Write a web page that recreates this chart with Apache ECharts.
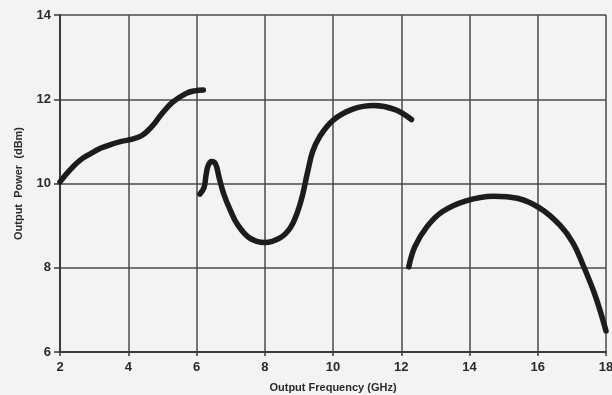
<!DOCTYPE html>
<html>
<head>
<meta charset="utf-8">
<script src="https://cdn.jsdelivr.net/npm/echarts@6/dist/echarts.min.js"></script>
<style>
html,body{margin:0;padding:0;background:#f3f3f1;}
#c{width:612px;height:395px;}
</style>
</head>
<body>
<div id="c"></div>
<script>
// Frequency (GHz) / Output power (dBm)
const band1Freq = [2.0, 2.3, 2.6, 2.9, 3.2, 3.5, 3.8, 4.05, 4.4, 4.7, 4.95, 5.3, 5.7, 5.95, 6.2];
const band1Power = [10.04, 10.33, 10.56, 10.71, 10.84, 10.93, 11.0, 11.04, 11.14, 11.36, 11.62, 11.93, 12.14, 12.2, 12.22];

const band2Freq = [6.1, 6.22, 6.28, 6.34, 6.44, 6.56, 6.66, 6.8, 7.0, 7.2, 7.55, 8.0, 8.45, 8.75, 8.95, 9.1, 9.25, 9.4, 9.6, 10.0, 10.6, 11.2, 11.8, 12.3];
const band2Power = [9.75, 9.9, 10.2, 10.42, 10.52, 10.46, 10.15, 9.75, 9.35, 9.03, 8.71, 8.6, 8.71, 8.95, 9.3, 9.7, 10.25, 10.75, 11.1, 11.5, 11.77, 11.85, 11.76, 11.52];

const band3Freq = [12.22, 12.4, 12.75, 13.2, 13.9, 14.7, 15.4, 16.05, 16.65, 17.04, 17.33, 17.63, 17.82, 18.0];
const band3Power = [8.02, 8.5, 8.97, 9.33, 9.59, 9.7, 9.65, 9.42, 9.01, 8.58, 8.06, 7.46, 7.0, 6.5];

const xTicks = [2, 4, 6, 8, 10, 12, 14, 16, 18];
const yTicks = [6, 8, 10, 12, 14];

function pairs(xs, ys){ return xs.map((x,i)=>[x, ys[i]]); }

const chart = echarts.init(document.getElementById('c'), null, {renderer:'canvas'});
const curveStyle = {color:'#1c1c1c', width:5.5, cap:'round', join:'round'};
const gridLine = {show:true, lineStyle:{color:'#4a4a4a', width:1.5}};
const font = 'Liberation Sans, Arial, sans-serif';

chart.setOption({
  backgroundColor:'#f3f3f1',
  animation:false,
  grid:{left:60, right:6, top:15, bottom:43, containLabel:false, outerBoundsMode:'none'},
  xAxis:{
    type:'value', min:xTicks[0], max:xTicks[xTicks.length-1], interval:2,
    name:'Output Frequency (GHz)', nameLocation:'middle', nameGap:30,
    nameTextStyle:{fontFamily:font, fontWeight:'bold', fontSize:11, color:'#2a2a2a'},
    axisLine:{show:true, lineStyle:{color:'#3a3a3a', width:2}},
    axisTick:{show:true, length:4, lineStyle:{color:'#3a3a3a', width:1.5}},
    axisLabel:{fontFamily:font, fontWeight:'bold', fontSize:13, color:'#2a2a2a', margin:9},
    splitLine:gridLine
  },
  yAxis:{
    type:'value', min:yTicks[0], max:yTicks[yTicks.length-1], interval:2,
    name:'Output  Power  (dBm)', nameLocation:'middle', nameGap:36, nameRotate:90,
    nameTextStyle:{fontFamily:font, fontWeight:'bold', fontSize:11, color:'#2a2a2a'},
    axisLine:{show:true, lineStyle:{color:'#3a3a3a', width:2}},
    axisTick:{show:true, length:6, lineStyle:{color:'#3a3a3a', width:1.5}},
    axisLabel:{fontFamily:font, fontWeight:'bold', fontSize:13, color:'#2a2a2a', margin:9},
    splitLine:gridLine
  },
  series:[
    {type:'line', data:pairs(band1Freq, band1Power), smooth:0.4, symbol:'none', lineStyle:curveStyle, clip:false},
    {type:'line', data:pairs(band2Freq, band2Power), smooth:0.4, symbol:'none', lineStyle:curveStyle, clip:false},
    {type:'line', data:pairs(band3Freq, band3Power), smooth:0.4, symbol:'none', lineStyle:curveStyle, clip:false}
  ]
});
</script>
</body>
</html>
